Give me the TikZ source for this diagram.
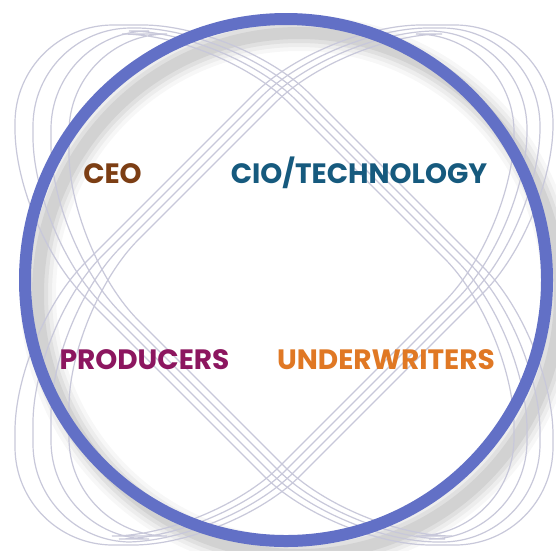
\documentclass[tikz,border=0pt]{standalone}
\usepackage{fontspec}
\newfontfamily\labfont{Poppins}
\definecolor{ringblue}{RGB}{98,112,198}
\definecolor{linegray}{RGB}{200,200,218}
\definecolor{ceocol}{RGB}{124,62,20}
\definecolor{ciocol}{RGB}{22,90,126}
\definecolor{prodcol}{RGB}{140,22,95}
\definecolor{undcol}{RGB}{224,120,36}
\begin{document}
\begin{tikzpicture}[x=1pt,y=-1pt,
  grayline/.style={draw=linegray, line width=1.2pt, rounded corners=98pt},
  lab/.style={font=\labfont\bfseries\fontsize{28}{30}\selectfont, anchor=base, inner sep=0pt}]
\useasboundingbox (0,0) rectangle (556,550);
\clip (0,0) rectangle (556,550);
\fill[white] (0,0) rectangle (556,550);
% soft shadow of the ring
\foreach \w/\o in {36/0.03,28/0.04,20/0.05,12/0.06}
  \draw[line width=\w pt, black, opacity=\o] (299,294) circle[radius=261pt];
% family A: loops along the top-left / bottom-right diagonal
\foreach \k in {0,1,2,3}{
  \pgfmathsetmacro{\T}{25+3*\k}
  \pgfmathsetmacro{\B}{545-3*\k}
  \pgfmathsetmacro{\L}{15+18*\k}
  \pgfmathsetmacro{\R}{553-13*\k}
  \pgfmathsetmacro{\h}{214-10*\k}
  \pgfmathsetmacro{\ct}{2+\h}
  \pgfmathsetmacro{\cb}{2-\h}
  \pgfmathsetmacro{\ax}{\T+\ct}
  \pgfmathsetmacro{\cy}{\L-\cb}
  \pgfmathsetmacro{\dx}{\B+\cb}
  \pgfmathsetmacro{\fy}{\R-\ct}
  \draw[grayline] (\ax,\T) -- (\L,\T) -- (\L,\cy) -- (\dx,\B) -- (\R,\B) -- (\R,\fy) -- cycle;
}
% family B: loops along the top-right / bottom-left diagonal
\foreach \k in {0,1,2,3}{
  \pgfmathsetmacro{\T}{25+3*\k}
  \pgfmathsetmacro{\B}{545-3*\k}
  \pgfmathsetmacro{\L}{15+18*\k}
  \pgfmathsetmacro{\R}{553-13*\k}
  \pgfmathsetmacro{\h}{214-10*\k}
  \pgfmathsetmacro{\di}{562-\h}
  \pgfmathsetmacro{\do}{562+\h}
  \pgfmathsetmacro{\ax}{\di-\T}
  \pgfmathsetmacro{\cy}{\do-\R}
  \pgfmathsetmacro{\dx}{\do-\B}
  \pgfmathsetmacro{\fy}{\di-\L}
  \draw[grayline] (\ax,\T) -- (\R,\T) -- (\R,\cy) -- (\dx,\B) -- (\L,\B) -- (\L,\fy) -- cycle;
}
% the ring
\draw[ringblue, line width=12pt] (286,280) circle[radius=261pt];
% labels
\node[lab, text=ceocol] (ceo) at (112.5,183) {CEO};
\node[lab, text=ciocol] (cio) at (359,183) {CIO/TECHNOLOGY};
\node[lab, text=prodcol] (prod) at (144.5,369) {PRODUCERS};
\node[lab, text=undcol] (under) at (386,369) {UNDERWRITERS};
\end{tikzpicture}
\end{document}
